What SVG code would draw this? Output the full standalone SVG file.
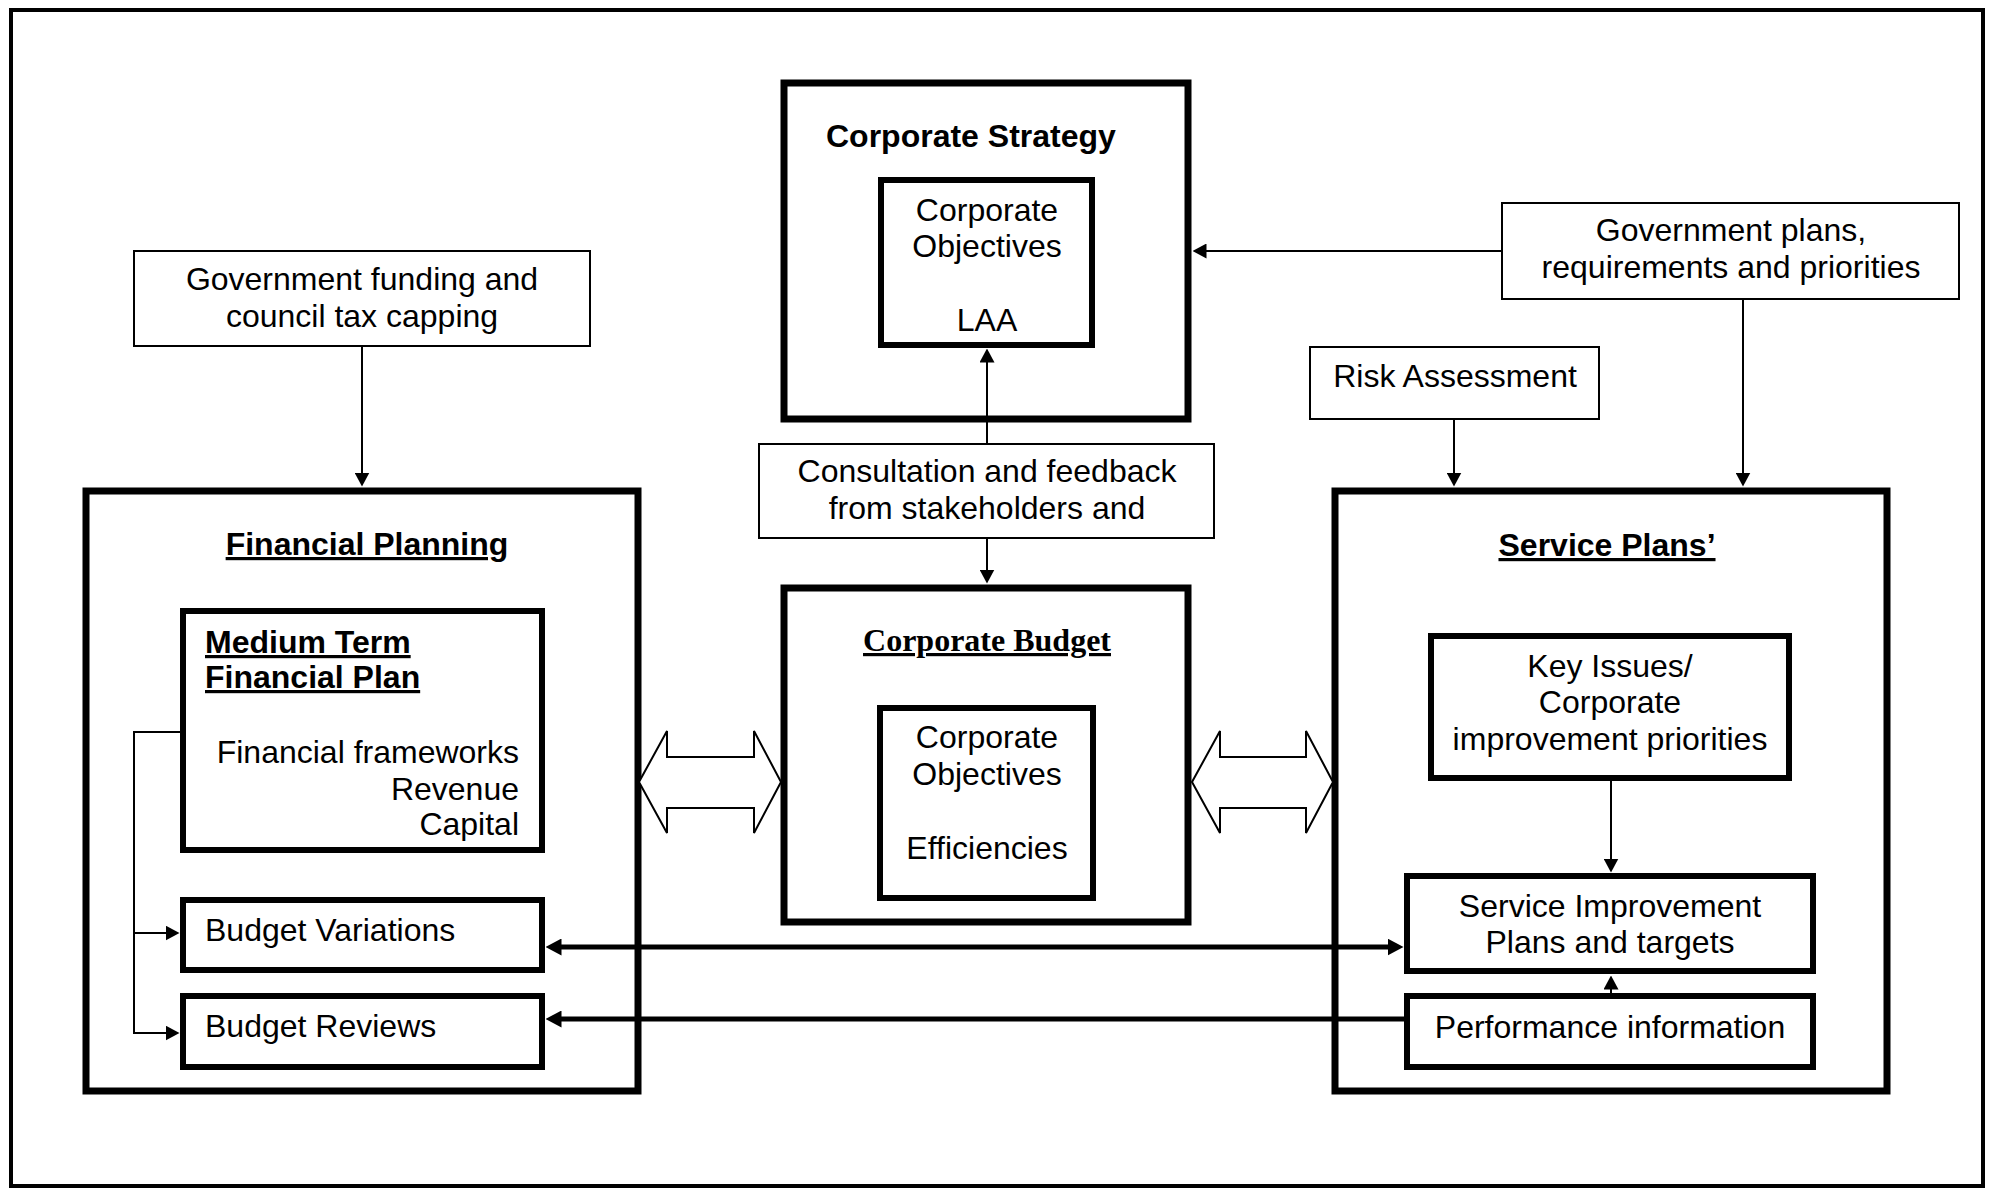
<svg xmlns="http://www.w3.org/2000/svg" width="1989" height="1189" viewBox="0 0 1989 1189">
  <style>
    .bg { fill: #ffffff; }
    .frame { fill: none; stroke: #000; stroke-width: 4; }
    .main { fill: #fff; stroke: #000; stroke-width: 7; }
    .inner { fill: #fff; stroke: #000; stroke-width: 6; }
    .thin { fill: #fff; stroke: #000; stroke-width: 2; }
    .t { font-family: "Liberation Sans", Arial, sans-serif; font-size: 32px; fill: #000; }
    .b { font-family: "Liberation Sans", Arial, sans-serif; font-size: 32px; font-weight: bold; fill: #000; }
    .u { text-decoration: underline; }
    .serif { font-family: "Liberation Serif", "Times New Roman", serif; font-size: 32px; font-weight: bold; fill: #000; }
    .c { text-anchor: middle; }
    .e { text-anchor: end; }
    .ln { fill: none; stroke: #000; stroke-width: 2; }
    .lnT { fill: none; stroke: #000; stroke-width: 5; }
    .blk { fill: #fff; stroke: #000; stroke-width: 2; stroke-linejoin: miter; }
  </style>
  <defs>
    <marker id="ah" markerUnits="userSpaceOnUse" markerWidth="14" markerHeight="15" refX="0.5" refY="7.5" orient="auto">
      <path d="M0,0 L14,7.5 L0,15 z" fill="#000"/>
    </marker>
    <marker id="ahT" markerUnits="userSpaceOnUse" markerWidth="16" markerHeight="17" refX="0.5" refY="8.5" orient="auto-start-reverse">
      <path d="M0,0 L16,8.5 L0,17 z" fill="#000"/>
    </marker>
    <clipPath id="mtfpClip">
      <rect x="186" y="614" width="353" height="227"/>
    </clipPath>
  </defs>

  <rect class="bg" x="0" y="0" width="1989" height="1189"/>
  <rect class="frame" x="11" y="10" width="1972" height="1176"/>

  <!-- Corporate Strategy -->
  <g id="corporate-strategy">
    <rect class="main" x="784" y="83" width="404" height="336"/>
    <text class="b" x="826" y="147">Corporate Strategy</text>
  </g>
  <g id="corporate-objectives-laa">
    <rect class="inner" x="881" y="180" width="211" height="165"/>
    <text class="t c" x="987" y="221">Corporate</text>
    <text class="t c" x="987" y="257">Objectives</text>
    <text class="t c" x="987" y="331">LAA</text>
  </g>

  <!-- Consultation -->
  <g id="consultation">
    <rect class="thin" x="759" y="444" width="455" height="94"/>
    <text class="t c" x="987" y="482">Consultation and feedback</text>
    <text class="t c" x="987" y="519">from stakeholders and</text>
  </g>

  <!-- Corporate Budget -->
  <g id="corporate-budget">
    <rect class="main" x="784" y="588" width="404" height="334"/>
    <text class="serif u c" x="987" y="651">Corporate Budget</text>
  </g>
  <g id="corporate-objectives-efficiencies">
    <rect class="inner" x="880" y="708" width="213" height="190"/>
    <text class="t c" x="987" y="748">Corporate</text>
    <text class="t c" x="987" y="785">Objectives</text>
    <text class="t c" x="987" y="859">Efficiencies</text>
  </g>

  <!-- External inputs -->
  <g id="government-funding">
    <rect class="thin" x="134" y="251" width="456" height="95"/>
    <text class="t c" x="362" y="290">Government funding and</text>
    <text class="t c" x="362" y="327">council tax capping</text>
  </g>
  <g id="government-plans">
    <rect class="thin" x="1502" y="203" width="457" height="96"/>
    <text class="t c" x="1731" y="241">Government plans,</text>
    <text class="t c" x="1731" y="278">requirements and priorities</text>
  </g>
  <g id="risk-assessment">
    <rect class="thin" x="1310" y="347" width="289" height="72"/>
    <text class="t c" x="1455" y="387">Risk Assessment</text>
  </g>

  <!-- Financial Planning -->
  <g id="financial-planning">
    <rect class="main" x="86" y="491" width="552" height="600"/>
    <text class="b u c" x="367" y="555">Financial Planning</text>
  </g>
  <g id="medium-term-financial-plan">
    <rect class="inner" x="183" y="611" width="359" height="239"/>
    <text class="b u" x="205" y="653">Medium Term</text>
    <text class="b u" x="205" y="688">Financial Plan</text>
    <g clip-path="url(#mtfpClip)">
      <text class="t e" x="519" y="763">Financial frameworks</text>
      <text class="t e" x="519" y="800">Revenue</text>
      <text class="t e" x="519" y="835">Capital</text>
    </g>
  </g>
  <g id="budget-variations">
    <rect class="inner" x="183" y="900" width="359" height="70"/>
    <text class="t" x="205" y="941">Budget Variations</text>
  </g>
  <g id="budget-reviews">
    <rect class="inner" x="183" y="996" width="359" height="71"/>
    <text class="t" x="205" y="1037">Budget Reviews</text>
  </g>

  <!-- Service Plans -->
  <g id="service-plans">
    <rect class="main" x="1335" y="491" width="552" height="600"/>
    <text class="b u c" x="1607" y="556">Service Plans’</text>
  </g>
  <g id="key-issues">
    <rect class="inner" x="1431" y="636" width="358" height="142"/>
    <text class="t c" x="1610" y="677">Key Issues/</text>
    <text class="t c" x="1610" y="713">Corporate</text>
    <text class="t c" x="1610" y="750">improvement priorities</text>
  </g>
  <g id="service-improvement-plans">
    <rect class="inner" x="1407" y="876" width="406" height="95"/>
    <text class="t c" x="1610" y="917">Service Improvement</text>
    <text class="t c" x="1610" y="953">Plans and targets</text>
  </g>
  <g id="performance-information">
    <rect class="inner" x="1407" y="996" width="406" height="71"/>
    <text class="t c" x="1610" y="1038">Performance information</text>
  </g>

  <!-- Connectors -->
  <g id="connectors">
    <line class="ln" x1="362" y1="346" x2="362" y2="473" marker-end="url(#ah)"/>
    <line class="ln" x1="1502" y1="251" x2="1206" y2="251" marker-end="url(#ah)"/>
    <line class="ln" x1="1743" y1="299" x2="1743" y2="473" marker-end="url(#ah)"/>
    <line class="ln" x1="1454" y1="419" x2="1454" y2="473" marker-end="url(#ah)"/>
    <line class="ln" x1="987" y1="444" x2="987" y2="362" marker-end="url(#ah)"/>
    <line class="ln" x1="987" y1="538" x2="987" y2="570" marker-end="url(#ah)"/>
    <path class="ln" d="M180,732 H134 V1033 H166" marker-end="url(#ah)"/>
    <line class="ln" x1="134" y1="933" x2="166" y2="933" marker-end="url(#ah)"/>
    <line class="ln" x1="1611" y1="781" x2="1611" y2="859" marker-end="url(#ah)"/>
    <line class="ln" x1="1611" y1="994" x2="1611" y2="989" marker-end="url(#ah)"/>
    <line class="lnT" x1="561" y1="947" x2="1388" y2="947" marker-start="url(#ahT)" marker-end="url(#ahT)"/>
    <line class="lnT" x1="1404" y1="1019" x2="561" y2="1019" marker-end="url(#ahT)"/>
    <polygon class="blk" points="639,782 667,731 667,757 754,757 754,731 781,782 754,833 754,808 667,808 667,833"/>
    <polygon class="blk" points="1192,782 1220,731 1220,757 1306,757 1306,731 1333,782 1306,833 1306,808 1220,808 1220,833"/>
  </g>
</svg>
